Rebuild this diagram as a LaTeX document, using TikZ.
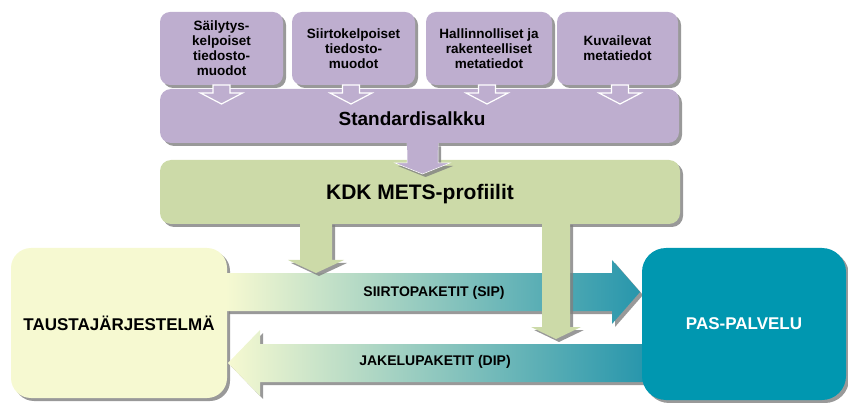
\documentclass[tikz,border=0pt]{standalone}
\usepackage{fontspec}
\setmainfont{Liberation Sans}
\usetikzlibrary{shadows,calc}
\definecolor{purp}{RGB}{190,174,207}
\definecolor{kgreen}{RGB}{204,218,168}
\definecolor{tyel}{RGB}{246,249,209}
\definecolor{pteal}{RGB}{0,151,176}
\definecolor{ateal}{RGB}{40,150,172}
\definecolor{amid}{RGB}{208,225,190}
% vertical block arrow: [opts]{x}{ytop}{yheadbase}{ytip}{shaft half}{head half}
\newcommand\vblockarrow[7][]{%
  \path[#1] ({#2-#6},#3) -- ({#2-#6},#4) -- ({#2-#7},#4) -- (#2,#5) --
    ({#2+#7},#4) -- ({#2+#6},#4) -- ({#2+#6},#3) -- cycle;}
% horizontal block arrow: [opts]{y}{xstart}{xheadbase}{xtip}{shaft half}{head half}
\newcommand\hblockarrow[7][]{%
  \path[#1] (#3,{#2-#6}) -- (#4,{#2-#6}) -- (#4,{#2-#7}) -- (#5,#2) --
    (#4,{#2+#7}) -- (#4,{#2+#6}) -- (#3,{#2+#6}) -- cycle;}
\tikzset{
  shad/.style={drop shadow={shadow xshift=3pt, shadow yshift=-3pt, fill=black!50, opacity=0.8}},
  topbox/.style={fill=purp, rounded corners=10pt, minimum width=123pt, minimum height=73pt,
    inner sep=0pt, align=center, font=\fontsize{13.5}{15}\selectfont\bfseries, shad},
  bigbox/.style={rounded corners=11pt, inner sep=0pt, shad},
  sidebox/.style={rounded corners=20pt, inner sep=0pt, shad},
  flowarrow/.style={left color=tyel, middle color=amid, right color=ateal, shad},
  lbl/.style={inner sep=0pt, font=\fontsize{14}{16}\selectfont\bfseries},
}
\begin{document}
\begin{tikzpicture}[x=1pt, y=-1pt]
\useasboundingbox (0,0) rectangle (848,403);
% top boxes
\node[topbox] (b1) at (221.5,48.5) {Säilytys-\\kelpoiset\\tiedosto-\\muodot};
\node[topbox] (b2) at (353.5,48.5) {Siirtokelpoiset\\tiedosto-\\muodot};
\node[topbox, minimum width=126pt] (b3) at (489,48.5) {Hallinnolliset ja\\rakenteelliset\\metatiedot};
\node[topbox, minimum width=121pt] (b4) at (617.5,48.5) {Kuvailevat\\metatiedot};
% Standardisalkku
\node[bigbox, fill=purp, minimum width=519pt, minimum height=54pt,
  font=\fontsize{19}{21}\selectfont\bfseries] (std) at (419.5,116) {};
\node[inner sep=0pt, font=\fontsize{19}{21}\selectfont\bfseries] (stdlbl) at (412,118.5) {Standardisalkku};
% small white arrows
\foreach \xx in {221.5,351,487,620}{
  \vblockarrow[fill=purp, draw=white, line width=1.2pt, line join=miter]{\xx}{85}{93}{104}{8.5}{21}
}
% KDK box
\node[bigbox, fill=kgreen, minimum width=520pt, minimum height=64pt] (kdk) at (420,192) {};
\node[inner sep=0pt, font=\fontsize{21}{23}\selectfont\bfseries] (kdklbl) at (420,194) {KDK METS-profiilit};
% purple arrow
\vblockarrow[fill=purp, draw=white, line width=0.5pt, shad]{422.5}{143.5}{163}{174}{15.5}{27.5}
\vblockarrow[fill=purp]{422.5}{140}{150}{150}{15.5}{15.5}
% left system box
\node[sidebox, fill=tyel, minimum width=216pt, minimum height=150pt,
  font=\fontsize{17}{19}\selectfont\bfseries] (tausta) at (119,323) {TAUSTAJÄRJESTELMÄ};
% flow arrows
\hblockarrow[flowarrow]{292}{226}{612}{640}{19}{32}
\hblockarrow[flowarrow]{363}{644}{260}{228}{19}{33}
\node[lbl] (sip) at (434,293) {SIIRTOPAKETIT (SIP)};
\node[lbl] (dip) at (435,362) {JAKELUPAKETIT (DIP)};
% PAS box
\node[sidebox, rounded corners=24pt, fill=pteal, text=white, minimum width=204pt, minimum height=152pt,
  font=\fontsize{17}{19}\selectfont\bfseries] (pas) at (744,324) {PAS-PALVELU};
% green arrows
\vblockarrow[fill=kgreen, shad]{316}{222}{260}{273}{16}{28}
\vblockarrow[fill=kgreen, shad]{556}{222}{327}{339}{14}{25}
\end{tikzpicture}
\end{document}
